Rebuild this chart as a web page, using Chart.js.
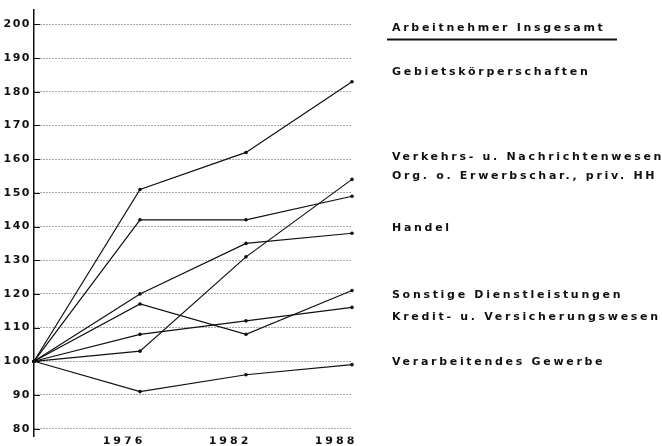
<!DOCTYPE html>
<html><head><meta charset="utf-8">
<script src="https://cdn.jsdelivr.net/npm/chart.js@4/dist/chart.umd.min.js"></script>
<style>html,body{margin:0;padding:0;background:#fff;}canvas{display:block}</style>
</head><body>
<canvas id="c" width="662" height="446"></canvas>
<script>
// ---- data ----
const years = ['', '1976', '1982', '1988'];
const headerText = 'Arbeitnehmer Insgesamt';
const seriesNames = [
  'Gebietskörperschaften',
  'Verkehrs- u. Nachrichtenwesen',
  'Org. o. Erwerbschar., priv. HH',
  'Handel',
  'Sonstige Dienstleistungen',
  'Kredit- u. Versicherungswesen',
  'Verarbeitendes Gewerbe'
];
const gebietskoerperschaften = [100, 151, 162, 183];
const verkehrNachrichten     = [100, 103, 131, 154];
const orgErwerbschar         = [100, 142, 142, 149];
const handel                 = [100, 120, 135, 138];
const sonstigeDienst         = [100, 117, 108, 121];
const kreditVersicherung     = [100, 108, 112, 116];
const verarbeitendesGewerbe  = [100, 91, 96, 99];
const seriesValues = [gebietskoerperschaften, verkehrNachrichten, orgErwerbschar, handel,
                      sonstigeDienst, kreditVersicherung, verarbeitendesGewerbe];

// ---- styling ----
const FAM = "'DejaVu Sans', Verdana, sans-serif";
const INK = '#111';

function wrapLabels(scale, spacing) {
  if (scale._lsWrapped) return;
  const orig = scale.drawLabels.bind(scale);
  scale.drawLabels = function (ca) {
    const c = this.ctx;
    const prev = c.letterSpacing;
    c.letterSpacing = spacing;
    orig(ca);
    c.letterSpacing = prev;
  };
  scale._lsWrapped = true;
}

const spacingPlugin = {
  id: 'spacing',
  afterLayout(chart) {
    wrapLabels(chart.scales.x, '3px');
    wrapLabels(chart.scales.y, '1.5px');
  }
};

const sideLabels = {
  id: 'sideLabels',
  beforeDatasetsDraw(chart) {
    const ctx = chart.ctx, ys = chart.scales.y, left = chart.chartArea.left;
    ctx.save();
    ctx.setLineDash([]);
    ctx.strokeStyle = INK; ctx.lineWidth = 1;
    ys.ticks.forEach(t => {
      const py = Math.round(ys.getPixelForValue(t.value)) + 0.5;
      ctx.beginPath(); ctx.moveTo(left, py); ctx.lineTo(left + 6, py); ctx.stroke();
    });
    ctx.restore();
  },
  afterDraw(chart, args, opts) {
    const ctx = chart.ctx;
    ctx.save();
    ctx.letterSpacing = '2.7px';
    ctx.font = "bold 11px " + FAM;
    ctx.fillStyle = INK;
    ctx.textAlign = 'left';
    ctx.textBaseline = 'middle';
    ctx.fillText(headerText, opts.x, opts.headerY);
    ctx.fillRect(opts.lineX0, opts.lineY - 1, opts.lineX1 - opts.lineX0, 2);
    chart.data.datasets.forEach((ds, i) => ctx.fillText(ds.label, opts.x, opts.rowsY[i]));
    ctx.restore();
  }
};

new Chart(document.getElementById('c'), {
  type: 'line',
  data: {
    labels: years,
    datasets: seriesNames.map((name, i) => ({
      label: name,
      data: seriesValues[i],
      borderColor: INK,
      borderWidth: 1.2,
      pointRadius: 1.8,
      pointBackgroundColor: INK,
      pointBorderWidth: 0,
      tension: 0,
      fill: false
    }))
  },
  options: {
    responsive: false,
    animation: false,
    devicePixelRatio: 1,
    layout: { padding: { left: 0, right: 310, top: 9, bottom: 0 } },
    plugins: {
      legend: { display: false },
      tooltip: { enabled: false },
      sideLabels: {
        x: 392, headerY: 28, lineX0: 387, lineX1: 617, lineY: 39.5,
        rowsY: [72, 157, 176, 228, 295, 317, 362]
      }
    },
    scales: {
      x: {
        offset: false,
        grid: { display: false, drawTicks: false },
        border: { display: false },
        ticks: {
          color: INK, font: { family: FAM, size: 11, weight: 'bold', lineHeight: 0.7 },
          padding: 0.5, labelOffset: -16, maxRotation: 0, autoSkip: false
        },
        afterFit(s) { s.height = 9; }
      },
      y: {
        min: 77.7, max: 204.4,
        grid: { color: '#555', lineWidth: 1, drawTicks: false },
        border: { display: true, color: INK, width: 1.5, dash: [1, 2] },
        ticks: {
          stepSize: 10, includeBounds: false, color: INK, padding: 3,
          font: { family: FAM, size: 11, weight: 'bold' }
        },
        afterFit(s) { s.width = 34; }
      }
    }
  },
  plugins: [spacingPlugin, sideLabels]
});
</script>
</body></html>
